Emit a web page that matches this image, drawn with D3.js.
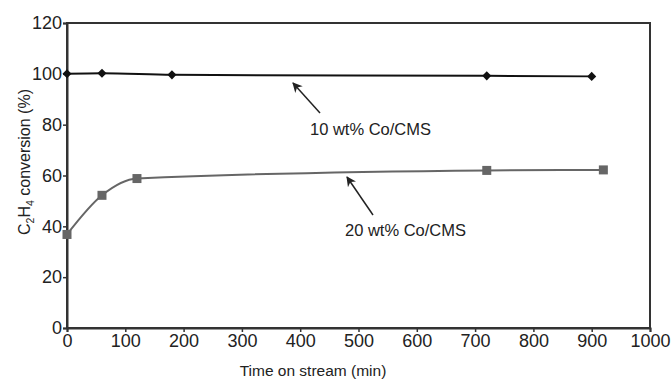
<!DOCTYPE html>
<html>
<head>
<meta charset="utf-8">
<script src="https://cdnjs.cloudflare.com/ajax/libs/d3/7.8.5/d3.min.js"></script>
<style>
  body { margin: 0; background: #fff; }
  text { font-family: "Liberation Sans", Arial, sans-serif; fill: #222; }
</style>
</head>
<body>
<svg id="chart" width="671" height="381"></svg>
<script>
// data
var time10 = [0, 60, 180, 720, 900];
var conv10 = [100, 100.2, 99.6, 99.2, 99.0];
var time20 = [0, 60, 120, 720, 920];
var conv20 = [36.8, 52.2, 58.8, 62.0, 62.2];
var xTicks = [0, 100, 200, 300, 400, 500, 600, 700, 800, 900, 1000];
var yTicks = [0, 20, 40, 60, 80, 100, 120];

var svg = d3.select("#chart"),
    margin = { top: 23, right: 21, bottom: 53, left: 67 },
    width = +svg.attr("width") - margin.left - margin.right,
    height = +svg.attr("height") - margin.top - margin.bottom,
    g = svg.append("g").attr("transform", "translate(" + margin.left + "," + margin.top + ")");

var x = d3.scaleLinear().domain([0, 1000]).range([0, width]);
var y = d3.scaleLinear().domain([0, 120]).range([height, 0]);

// frame
g.append("rect")
    .attr("width", width).attr("height", height)
    .attr("fill", "none").attr("stroke", "#333").attr("stroke-width", 2);

var xAxis = g.append("g")
    .attr("transform", "translate(0," + height + ")")
    .call(d3.axisBottom(x).tickValues(xTicks).tickFormat(d3.format("d")).tickSize(4).tickPadding(2));
var yAxis = g.append("g")
    .call(d3.axisLeft(y).tickValues(yTicks).tickFormat(d3.format("d")).tickSize(4).tickPadding(1));

[xAxis, yAxis].forEach(function (a) {
  a.attr("font-size", null).attr("font-family", null);
  a.select(".domain").attr("stroke", "#333").attr("stroke-width", 2);
  a.selectAll(".tick line").attr("stroke", "#333").attr("stroke-width", 1.5);
  a.selectAll(".tick text")
      .attr("fill", "#222")
      .style("font-size", "18px");
});

var line = d3.line()
    .x(function (d) { return x(d[0]); })
    .y(function (d) { return y(d[1]); })
    .curve(d3.curveMonotoneX);

var s10 = d3.zip(time10, conv10),
    s20 = d3.zip(time20, conv20);

g.append("path").datum(s20)
    .attr("d", line).attr("fill", "none")
    .attr("stroke", "#666").attr("stroke-width", 2);
g.selectAll(".sq").data(s20).enter().append("rect")
    .attr("class", "sq")
    .attr("x", function (d) { return x(d[0]) - 4.5; })
    .attr("y", function (d) { return y(d[1]) - 4.5; })
    .attr("width", 9).attr("height", 9)
    .attr("fill", "#666");

g.append("path").datum(s10)
    .attr("d", line).attr("fill", "none")
    .attr("stroke", "#111").attr("stroke-width", 2);
g.selectAll(".dia").data(s10).enter().append("path")
    .attr("class", "dia")
    .attr("transform", function (d) { return "translate(" + x(d[0]) + "," + y(d[1]) + ") rotate(45)"; })
    .attr("d", "M-3.2,-3.2h6.4v6.4h-6.4z")
    .attr("fill", "#111");

// annotations
svg.append("defs").append("marker")
    .attr("id", "arr").attr("viewBox", "0 0 10 10")
    .attr("refX", 9).attr("refY", 5)
    .attr("markerWidth", 10).attr("markerHeight", 10)
    .attr("markerUnits", "userSpaceOnUse")
    .attr("orient", "auto")
  .append("path").attr("d", "M0,0L10,5L0,10L3,5z").attr("fill", "#222");

svg.append("line")
    .attr("x1", 320).attr("y1", 113).attr("x2", 293).attr("y2", 83)
    .attr("stroke", "#222").attr("stroke-width", 1.5).attr("marker-end", "url(#arr)");
svg.append("text").attr("x", 310).attr("y", 135)
    .style("font-size", "16.5px").text("10 wt% Co/CMS");

svg.append("line")
    .attr("x1", 373).attr("y1", 215).attr("x2", 347).attr("y2", 177)
    .attr("stroke", "#222").attr("stroke-width", 1.5).attr("marker-end", "url(#arr)");
svg.append("text").attr("x", 345).attr("y", 236)
    .style("font-size", "16.5px").text("20 wt% Co/CMS");

// axis titles
svg.append("text")
    .attr("x", 313).attr("y", 376)
    .attr("text-anchor", "middle")
    .style("font-size", "15.5px")
    .text("Time on stream (min)");

var yl = svg.append("text")
    .attr("transform", "translate(30,162) rotate(-90)")
    .attr("text-anchor", "middle")
    .style("font-size", "16px");
yl.append("tspan").text("C");
yl.append("tspan").attr("dy", 4).style("font-size", "10.5px").text("2");
yl.append("tspan").attr("dy", -4).text("H");
yl.append("tspan").attr("dy", 4).style("font-size", "10.5px").text("4");
yl.append("tspan").attr("dy", -4).text(" conversion (%)");
</script>
</body>
</html>
